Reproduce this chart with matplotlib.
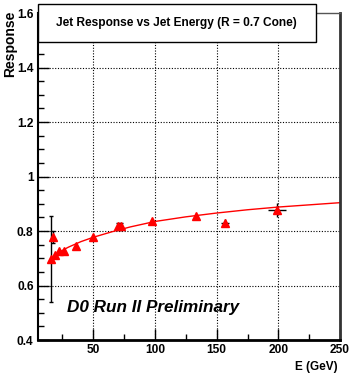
import matplotlib
matplotlib.use("Agg")
import matplotlib.pyplot as plt
from matplotlib.patches import Rectangle
from matplotlib.ticker import MultipleLocator, FixedLocator

# ---- data ----
energy = [15.7, 17.8, 19.4, 22.4, 26.7, 36.0, 50.0, 69.7, 72.7, 97.6, 133.2, 156.7, 198.9]
response = [0.696, 0.779, 0.711, 0.728, 0.727, 0.745, 0.777, 0.817, 0.817, 0.836, 0.855, 0.830, 0.877]
resp_err = [0.158, 0.022, 0.0, 0.0, 0.0, 0.0, 0.0, 0.013, 0.013, 0.0, 0.0, 0.015, 0.026]
energy_err = [0, 0, 0, 0, 0, 0, 0, 0, 0, 0, 0, 3.3, 7.3]
capped = [True, True, False, False, False, False, False, True, True, False, False, False, False]

fit_energy = [19, 25, 30, 40, 50, 65, 80, 100, 125, 150, 175, 200, 225, 250]
fit_response = [0.711, 0.729, 0.741, 0.761, 0.777, 0.797, 0.815, 0.835, 0.852, 0.866, 0.878, 0.888, 0.896, 0.904]

x_ticks = [50, 100, 150, 200, 250]
x_tick_labels = ["50", "100", "150", "200", "250"]
y_ticks = [0.4, 0.6, 0.8, 1.0, 1.2, 1.4, 1.6]
y_tick_labels = ["0.4", "0.6", "0.8", "1", "1.2", "1.4", "1.6"]

title = "Jet Response vs Jet Energy (R = 0.7 Cone)"
FONT = ["Liberation Sans", "DejaVu Sans"]

fig = plt.figure(figsize=(3.51, 3.75), dpi=100)
ax = fig.add_axes([0.1074, 0.0933, 0.8616, 0.872])
ax.set_xlim(5, 250)
ax.set_ylim(0.4, 1.6)

# grid
for xv in x_ticks[:-1]:
    ax.axvline(xv, color="black", lw=0.8, ls=(0, (1, 1.5)), zorder=1)
for yv in y_ticks[1:-1]:
    ax.axhline(yv, color="black", lw=0.8, ls=(0, (1, 1.5)), zorder=1)

# fit curve
ax.plot(fit_energy, fit_response, color="red", lw=1.0, zorder=2)

# error bars
for e, r, ye, xe, c in zip(energy, response, resp_err, energy_err, capped):
    if ye > 0 or xe > 0:
        ax.errorbar([e], [r], yerr=[ye] if ye > 0 else None,
                    xerr=[xe] if xe > 0 else None,
                    fmt="none", ecolor="black", elinewidth=1.0,
                    capsize=1.5 if c else 0, capthick=1.0, zorder=3)

# markers
ax.plot(energy, response, ls="none", marker="^", ms=5.5, color="red",
        mec="red", zorder=4)

# ticks
ax.xaxis.set_major_locator(FixedLocator(x_ticks))
ax.set_xticklabels(x_tick_labels)
ax.xaxis.set_minor_locator(MultipleLocator(25))
ax.yaxis.set_major_locator(FixedLocator(y_ticks))
ax.set_yticklabels(y_tick_labels)
ax.yaxis.set_minor_locator(MultipleLocator(0.05))
ax.tick_params(axis="both", which="major", direction="in", length=8, width=1,
               top=False, right=False, pad=3)
ax.tick_params(axis="both", which="minor", direction="in", length=4, width=1,
               top=False, right=False)
for lbl in ax.get_xticklabels() + ax.get_yticklabels():
    lbl.set_fontfamily(FONT)
    lbl.set_fontweight("bold")
    lbl.set_fontsize(8.6)

# spines
ax.spines["bottom"].set_linewidth(2.0)
ax.spines["left"].set_linewidth(1.5)
ax.spines["right"].set_linewidth(2.0)
ax.spines["right"].set_color("#333333")
ax.spines["top"].set_linewidth(1.0)
ax.spines["top"].set_color("#555555")

# axis labels
fig.text(338 / 351, 1 - 367 / 375, "E (GeV)", ha="right", va="center",
         fontfamily=FONT, fontweight="bold", fontsize=8.5)
fig.text(10 / 351, 1 - 11 / 375, "Response", ha="center", va="top",
         rotation=90, fontfamily=FONT, fontweight="bold", fontsize=10)

# preliminary label
ax.text(0.098, 0.098, "D0 Run II Preliminary", transform=ax.transAxes,
        ha="left", va="center", fontfamily=FONT, fontweight="bold",
        fontstyle="italic", fontsize=12.3, zorder=5)

# title box with shadow
bx0, bx1 = 37.7 / 351, 315.7 / 351
by0, by1 = 1 - 41.7 / 375, 1 - 4.3 / 375
fig.patches.append(Rectangle((bx0 + 1.5 / 351, by0 - 1.5 / 375), bx1 - bx0, by1 - by0,
                             transform=fig.transFigure, facecolor="black",
                             edgecolor="none", zorder=10))
fig.patches.append(Rectangle((bx0, by0), bx1 - bx0, by1 - by0,
                             transform=fig.transFigure, facecolor="white",
                             edgecolor="black", lw=1.0, zorder=11))
fig.text((bx0 + bx1) / 2, (by0 + by1) / 2, title, ha="center", va="center",
         fontfamily=FONT, fontweight="bold", fontsize=8.6, zorder=12)

fig.savefig("out.png", dpi=100)
